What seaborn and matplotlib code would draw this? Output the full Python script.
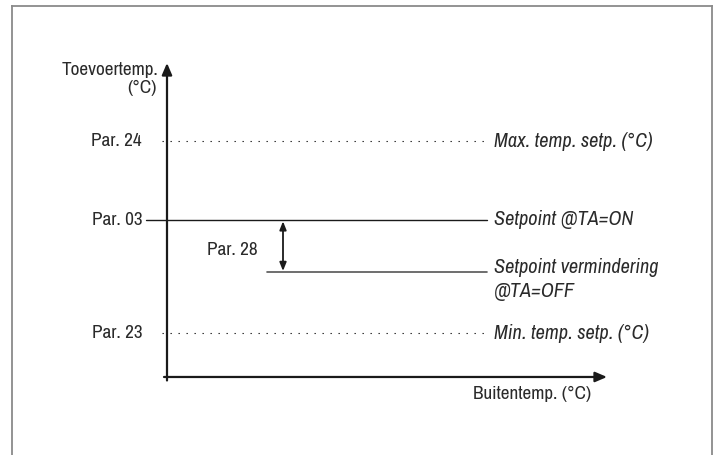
import matplotlib
matplotlib.use('Agg')
import matplotlib.pyplot as plt
import seaborn as sns
import pandas as pd

# schematische niveaus (willekeurige eenheden)
level_names = ["Par. 24", "Par. 03", "Par. 23"]
level_values = [54, 36, 10]
level_styles = ["dotted", "solid", "dotted"]
level_text = ["Max. temp. setp. (°C)", "Setpoint @TA=ON", "Min. temp. setp. (°C)"]
level_start = [-0.25, -1.05, -0.25]

reduced_value = 24
reduced_start = 5.0
reduced_text = "Setpoint vermindering\n@TA=OFF"
line_end = 16.0

arrow_x = 5.8
x_axis_len = 22
y_axis_len = 72

sns.set_style("white")
plt.rcParams['font.family'] = ['Archivo Narrow', 'DejaVu Sans']

fig = plt.figure(figsize=(7.2, 4.55), dpi=100)
ax = fig.add_axes([12 / 720, 0, 700 / 720, 449 / 455])
ax.set_xlim(-7.75, 27.25)
ax.set_ylim(-17.89, 85.07)
ax.set_xticks([])
ax.set_yticks([])
for side in ["left", "right", "top"]:
    ax.spines[side].set_color("#8a8a8a")
    ax.spines[side].set_linewidth(1.3)
ax.spines["bottom"].set_visible(False)

ink = "#1a1a1a"
txt_col = "#2a2a2a"
fs = 13.8
fs_it = 14.6

# assen met pijlen
ax.annotate("", xy=(0, y_axis_len), xytext=(0, -0.8),
            arrowprops=dict(arrowstyle="-|>,head_length=0.7,head_width=0.3",
                            color=ink, lw=1.6, shrinkA=0, shrinkB=0))
ax.annotate("", xy=(x_axis_len, 0), xytext=(-0.15, 0),
            arrowprops=dict(arrowstyle="-|>,head_length=0.7,head_width=0.3",
                            color=ink, lw=1.6, shrinkA=0, shrinkB=0))

# horizontale niveaus
for name, val, style, txt, x0 in zip(level_names, level_values, level_styles,
                                     level_text, level_start):
    df = pd.DataFrame({"x": [x0, line_end], "y": [val, val]})
    if style == "dotted":
        sns.lineplot(data=df, x="x", y="y", ax=ax, color=ink, lw=0.8,
                     linestyle=(0, (1.2, 6)))
    else:
        sns.lineplot(data=df, x="x", y="y", ax=ax, color=ink, lw=1.0)
    ax.text(-1.25, val, name, ha="right", va="center", fontsize=fs, color=txt_col)
    ax.text(line_end + 0.35, val, txt, ha="left", va="center", fontsize=fs_it,
            style="italic", color=txt_col)

df_red = pd.DataFrame({"x": [reduced_start, line_end], "y": [reduced_value, reduced_value]})
sns.lineplot(data=df_red, x="x", y="y", ax=ax, color="#555555", lw=1.2)
ax.text(line_end + 0.35, reduced_value + 3.3, reduced_text, ha="left", va="top",
        fontsize=fs_it, style="italic", color=txt_col, linespacing=1.35)

# verschil Par. 28
ax.annotate("", xy=(arrow_x, level_values[1] - 0.3), xytext=(arrow_x, reduced_value + 0.3),
            arrowprops=dict(arrowstyle="<|-|>,head_length=0.5,head_width=0.2",
                            color=ink, lw=1.3, shrinkA=0, shrinkB=0))
ax.text(3.25, 29.1, "Par. 28", ha="center", va="center", fontsize=fs, color=txt_col)

# aslabels
ax.text(-0.45, 70.4, "Toevoertemp.", ha="right", va="center", fontsize=fs, color=txt_col)
ax.text(-0.5, 66.3, "(°C)", ha="right", va="center", fontsize=fs, color=txt_col)
ax.text(18.25, -4.0, "Buitentemp. (°C)", ha="center", va="center", fontsize=fs,
        color=txt_col)

ax.set_xlabel("")
ax.set_ylabel("")
fig.savefig("out.png", dpi=100)
